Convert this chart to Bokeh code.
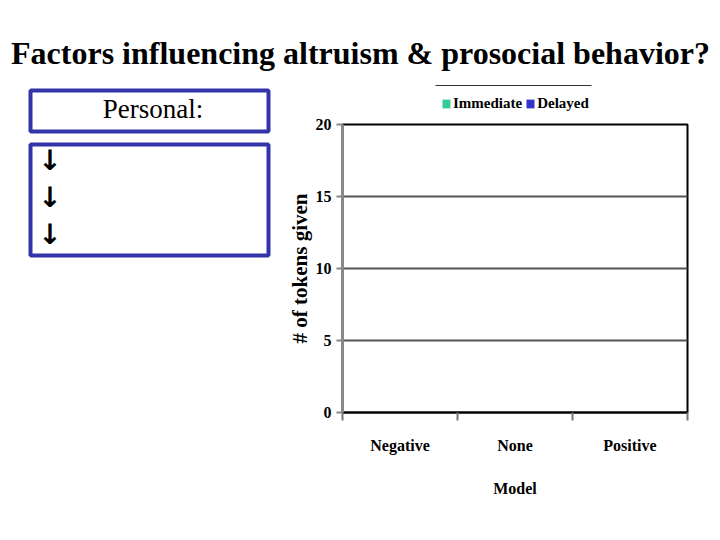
from bokeh.plotting import figure
from bokeh.layouts import column, row
from bokeh.models import (FactorRange, Range1d, LinearAxis, CategoricalAxis, FixedTicker,
                          Legend, LegendItem, Label, BoxAnnotation, ColumnDataSource)
from bokeh.transform import dodge
from bokeh.embed import file_html
from bokeh.resources import INLINE

# ---- data ----
title = "Factors influencing altruism & prosocial behavior?"
categories = ["Negative", "None", "Positive"]
series = ["Immediate", "Delayed"]
immediate = [0, 0, 0]
delayed = [0, 0, 0]
y_ticks = [0, 5, 10, 15, 20]
y_label = "# of tokens given"
x_label = "Model"
box_heading = "Personal:"
arrows = ["\u2193", "\u2193", "\u2193"]

# ---- style / layout ----
W, H = 720, 540
SERIF = "Liberation Serif"
BLUE_BOX = "#3333aa"
COLORS = ["#33cc99", "#3333cc"]
TITLE_H = 86          # title strip (also carries the rule above the legend)
LEFT_W = 280          # left text panel
LEG_H = 28            # legend strip above chart
FL, FR, FT, FB = 342, 687, 124, 412   # chart frame in page pixels


def blank(width, height, x0, y0):
    """A figure whose data coordinates equal page pixels (y downwards)."""
    f = figure(width=width, height=height, x_range=Range1d(x0, x0 + width),
               y_range=Range1d(y0 + height, y0), output_backend="svg",
               toolbar_location=None, x_axis_location=None, y_axis_location=None,
               min_border=0, outline_line_color=None)
    f.grid.visible = False
    f.background_fill_color = "white"
    f.border_fill_color = "white"
    return f


# ---- title strip ----
tf = blank(W, TITLE_H, 0, 0)
tf.add_layout(Label(x=360, y=52, text=title, text_align="center", text_baseline="middle",
                    text_font=SERIF, text_font_style="bold", text_font_size="32px",
                    text_color="black"))
tf.add_layout(BoxAnnotation(left=435, right=591, top=84.5, bottom=85.5,
                            fill_color="#333333", fill_alpha=1, line_color=None))

# ---- left panel ----
lf = blank(LEFT_W, H - TITLE_H, 0, TITLE_H)
for top, bottom in [(90, 131), (144, 255)]:
    lf.add_layout(BoxAnnotation(left=30, right=268, top=top, bottom=bottom,
                                fill_alpha=0, line_color=BLUE_BOX, line_width=4, line_alpha=1))
lf.add_layout(Label(x=152.5, y=108, text=box_heading, text_align="center",
                    text_baseline="middle", text_font=SERIF, text_font_size="27px",
                    text_color="black"))
for i, a in enumerate(arrows):
    lf.add_layout(Label(x=49.5, y=160 + 37 * i, text=a, text_align="center",
                        text_baseline="middle", text_font="DejaVu Sans",
                        text_font_style="bold", text_font_size="28px",
                        text_color="black"))

# ---- chart ----
CW = W - LEFT_W
CH = H - TITLE_H - LEG_H
src = ColumnDataSource(dict(cat=categories, immediate=immediate, delayed=delayed))


def bars(fig, outline):
    a = fig.vbar(x=dodge("cat", -0.15, range=fig.x_range), top="immediate", width=0.3,
                 source=src, fill_color=COLORS[0], line_color=outline, line_width=1)
    b = fig.vbar(x=dodge("cat", 0.15, range=fig.x_range), top="delayed", width=0.3,
                 source=src, fill_color=COLORS[1], line_color=outline, line_width=1)
    return a, b


p = figure(width=CW, height=CH, x_range=FactorRange(*categories), y_range=Range1d(0, 20),
           output_backend="svg", toolbar_location=None, x_axis_location=None,
           min_border_left=FL - LEFT_W, min_border_right=W - FR,
           min_border_top=FT - TITLE_H - LEG_H, min_border_bottom=H - FB)
p.outline_line_color = "black"
p.outline_line_width = 2
p.background_fill_color = "white"
p.border_fill_color = "white"
bars(p, "black")

yax = p.yaxis[0]
yax.ticker = FixedTicker(ticks=y_ticks)
yax.axis_line_color = "#888888"
yax.axis_line_width = 3
yax.major_tick_line_color = "#888888"
yax.major_tick_line_width = 2
yax.major_tick_out = 6
yax.major_tick_in = 0
yax.minor_tick_line_color = None
yax.major_label_text_font = SERIF
yax.major_label_text_font_style = "bold"
yax.major_label_text_font_size = "16px"
yax.major_label_text_color = "black"
yax.major_label_standoff = 5
yax.axis_label = y_label
yax.axis_label_text_font = SERIF
yax.axis_label_text_font_style = "bold"
yax.axis_label_text_font_size = "21px"
yax.axis_label_text_color = "black"
yax.axis_label_standoff = 1

p.ygrid.ticker = FixedTicker(ticks=y_ticks)
p.ygrid.grid_line_color = "#555555"
p.ygrid.grid_line_width = 2
p.xgrid.grid_line_color = None

# boundary ticks at the factor range's synthetic edges 0..n, then category labels
n = len(categories)
edge_axis = LinearAxis(ticker=FixedTicker(ticks=list(range(n + 1))),
                       major_label_overrides={i: "" for i in range(n + 1)},
                       major_label_standoff=0,
                       axis_line_color="black", axis_line_width=2,
                       major_tick_in=0, major_tick_out=8,
                       major_tick_line_color="#777777", major_tick_line_width=2,
                       minor_tick_line_color=None)
p.add_layout(edge_axis, "below")
cat_axis = CategoricalAxis(axis_line_color=None, major_tick_line_color=None,
                           major_label_standoff=10,
                           major_label_text_font=SERIF, major_label_text_font_style="bold",
                           major_label_text_font_size="16px", major_label_text_color="black",
                           axis_label=x_label, axis_label_text_font=SERIF,
                           axis_label_text_font_style="bold", axis_label_text_font_size="16px",
                           axis_label_text_color="black", axis_label_standoff=23)
p.add_layout(cat_axis, "below")

# ---- legend strip (frame aligned with the chart frame) ----
lg = figure(width=CW, height=LEG_H, x_range=p.x_range, y_range=Range1d(1, 2),
            output_backend="svg", toolbar_location=None, x_axis_location=None,
            y_axis_location=None, min_border_left=FL - LEFT_W, min_border_right=W - FR,
            min_border_top=0, min_border_bottom=0, outline_line_color=None)
lg.grid.visible = False
lr1, lr2 = bars(lg, None)

legend = Legend(items=[LegendItem(label=series[0], renderers=[lr1]),
                       LegendItem(label=series[1], renderers=[lr2])],
                location=(441 - FL, TITLE_H + LEG_H - 112), orientation="horizontal",
                border_line_color=None, background_fill_alpha=0,
                label_text_font=SERIF, label_text_font_style="bold",
                label_text_font_size="15px", label_text_color="black", label_standoff=2,
                glyph_width=10, glyph_height=11, spacing=3, padding=0, margin=0)
lg.add_layout(legend)

layout = column(tf, row(lf, column(lg, p)))
open("out.html", "w").write(file_html(layout, INLINE))
